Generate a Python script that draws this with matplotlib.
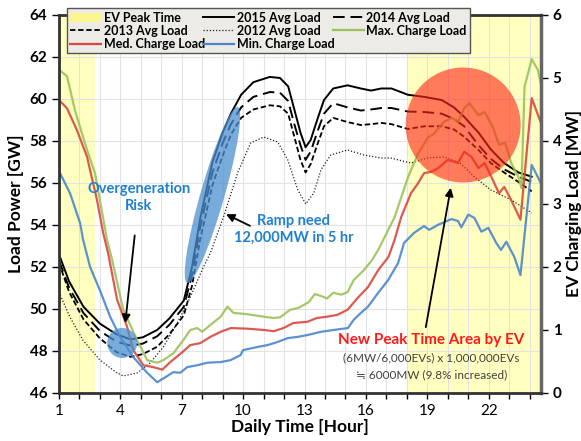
import matplotlib.pyplot as plt
from matplotlib.patches import Ellipse, Patch
from matplotlib.lines import Line2D
from matplotlib.transforms import ScaledTranslation

plt.rcParams['font.family'] = ['Lato', 'DejaVu Sans']

# average loads [GW], left axis
hours_avg = [1.0, 1.5, 2.2, 3.0, 3.8, 4.5, 5.1, 5.8, 6.4, 7.1, 7.5, 7.9, 8.5, 9.0, 9.4, 9.9,
             10.5, 11.3, 11.8, 12.2, 12.5, 12.8, 13.05, 13.3, 13.65, 13.95, 14.4, 15.1, 15.75,
             16.25, 16.75, 17.25, 18.05, 18.85, 19.7, 20.3, 20.8, 21.5, 22.1, 22.75, 23.45, 24.1]
load_2015 = [52.6, 51.3, 50.1, 49.3, 48.8, 48.55, 48.65, 49.0, 49.55, 50.4, 52.0, 54.3, 57.0, 58.4,
             59.3, 60.2, 60.8, 61.05, 61.0, 60.6, 59.5, 58.4, 57.7, 58.05, 59.1, 59.95, 60.5, 60.65,
             60.5, 60.4, 60.5, 60.5, 60.2, 60.1, 59.95, 59.6, 59.15, 58.4, 57.6, 56.95, 56.5, 56.3]
load_2014 = [52.3, 51.0, 49.8, 48.95, 48.45, 48.25, 48.35, 48.7, 49.25, 50.1, 51.6, 53.9, 56.5, 57.9,
             58.8, 59.6, 60.1, 60.33, 60.3, 59.9, 58.8, 57.8, 57.1, 57.5, 58.5, 59.3, 59.8, 59.6,
             59.45, 59.5, 59.57, 59.57, 59.4, 59.38, 59.3, 59.05, 58.7, 57.8, 57.15, 56.65, 56.3, 56.05]
load_2013 = [52.2, 50.8, 49.5, 48.6, 47.95, 47.72, 47.85, 48.2, 48.8, 49.7, 51.1, 53.3, 55.9, 57.3,
             58.3, 59.1, 59.5, 59.7, 59.65, 59.3, 58.2, 57.1, 56.5, 56.9, 57.9, 58.7, 59.1, 58.9,
             58.76, 58.8, 58.86, 58.8, 58.57, 58.7, 58.7, 58.55, 58.2, 57.57, 56.95, 56.5, 56.05, 55.6]

hours_2012 = [1.0, 1.54, 2.18, 3.0, 3.84, 4.14, 4.82, 5.46, 6.1, 6.78, 7.42, 8.06, 8.4, 9.04, 9.73,
              10.36, 11.0, 11.69, 12.18, 12.67, 13.06, 13.45, 13.8, 14.28, 15.1, 15.9, 16.74, 17.2,
              18.2, 19.0, 19.8, 20.6, 21.3, 22.1, 23.1, 24.1]
load_2012 = [50.8, 49.6, 48.5, 47.57, 46.95, 46.81, 46.95, 47.43, 48.19, 49.33, 50.57, 52.0, 52.67,
             54.38, 56.48, 57.9, 58.19, 57.95, 57.1, 55.67, 55.0, 55.52, 56.62, 57.33, 57.57, 57.33,
             57.19, 57.19, 56.95, 57.19, 57.24, 56.95, 56.29, 55.67, 55.19, 54.57]

# EV charging loads [MW], right axis
hours_max = [1.0, 1.39, 1.78, 2.03, 2.37, 2.76, 3.0, 3.35, 3.6, 4.14, 4.82, 5.31, 5.8, 6.1, 6.59,
             7.08, 7.42, 7.76, 8.0, 8.4, 8.9, 9.23, 9.53, 10.2, 11.0, 11.5, 11.8, 12.3, 12.7, 13.2,
             13.5, 13.8, 14.1, 14.4, 14.8, 15.1, 15.4, 15.9, 16.3, 16.6, 17.4, 18.06, 18.55, 19.04,
             19.3, 19.8, 20.2, 20.5, 20.8, 21.05, 21.5, 21.8, 22.2, 22.5, 22.8, 23.1, 23.45, 23.6,
             23.75, 24.1, 24.4, 24.55]
max_charge = [5.13, 5.03, 4.49, 4.22, 3.86, 3.49, 3.06, 2.43, 2.11, 1.32, 0.84, 0.52, 0.48, 0.52,
              0.63, 0.84, 1.0, 1.03, 0.97, 1.08, 1.21, 1.37, 1.27, 1.25, 1.21, 1.19, 1.2, 1.32, 1.35,
              1.44, 1.57, 1.54, 1.5, 1.59, 1.56, 1.6, 1.79, 1.95, 2.11, 2.27, 2.79, 3.43, 3.8, 4.06,
              4.11, 4.3, 4.37, 4.3, 4.52, 4.6, 4.41, 4.46, 4.22, 3.94, 3.97, 3.65, 3.43, 3.25,
              4.86, 5.3, 5.13, 4.9]

hours_med = [1.0, 1.39, 1.88, 2.37, 2.86, 3.16, 3.4, 3.84, 4.33, 4.63, 5.12, 5.6, 6.05, 6.44, 6.93,
             7.42, 7.9, 8.4, 8.9, 9.4, 10.2, 11.0, 11.5, 11.97, 12.45, 13.15, 13.6, 14.1, 14.6,
             15.1, 15.6, 16.1, 16.6, 17.1, 17.4, 17.72, 18.2, 18.55, 18.84, 19.2, 19.53, 20.0, 20.5,
             20.8, 21.15, 21.5, 21.8, 22.13, 22.5, 22.76, 23.1, 23.55, 24.1, 24.55]
med_charge = [4.65, 4.52, 4.17, 3.75, 3.06, 2.54, 2.22, 1.48, 1.05, 0.68, 0.44, 0.41, 0.37, 0.49,
              0.62, 0.76, 0.79, 0.89, 0.97, 1.03, 1.02, 1.0, 0.98, 1.03, 1.11, 1.13, 1.19, 1.21,
              1.24, 1.32, 1.51, 1.68, 1.95, 2.16, 2.43, 2.79, 3.17, 3.33, 3.49, 3.51, 3.57, 3.7,
              3.65, 3.83, 3.75, 3.57, 3.65, 3.43, 3.17, 3.27, 3.06, 2.75, 4.68, 4.29]

hours_min = [1.05, 1.54, 2.03, 2.18, 2.52, 3.0, 3.5, 3.99, 4.63, 5.31, 5.8, 6.2, 6.59, 6.93, 7.27,
             7.76, 8.25, 8.9, 9.38, 9.87, 10.0, 10.7, 11.2, 11.69, 12.18, 12.67, 13.16, 13.8, 14.43,
             15.12, 15.4, 15.75, 16.1, 16.6, 17.08, 17.57, 17.86, 18.35, 18.84, 19.09, 19.53, 19.82,
             20.17, 20.5, 20.66, 21.0, 21.3, 21.64, 21.98, 22.37, 22.6, 22.86, 23.25, 23.55, 24.1,
             24.55]
min_charge = [3.49, 3.17, 2.7, 2.43, 2.0, 1.63, 1.21, 0.89, 0.57, 0.32, 0.17, 0.25, 0.33, 0.32,
              0.41, 0.44, 0.48, 0.49, 0.52, 0.6, 0.68, 0.73, 0.76, 0.81, 0.87, 0.89, 0.92, 0.97,
              1.0, 1.03, 1.16, 1.27, 1.37, 1.59, 1.79, 2.06, 2.38, 2.54, 2.65, 2.59, 2.67, 2.71,
              2.76, 2.73, 2.63, 2.83, 2.78, 2.56, 2.62, 2.38, 2.27, 2.4, 2.16, 1.87, 3.62, 3.33]

peak_spans = [(1.0, 2.75), (18.0, 24.55)]
x_ticks = [1, 4, 7, 10, 13, 16, 19, 22]

fig, ax = plt.subplots(figsize=(5.81, 4.41), dpi=100)
fig.subplots_adjust(left=0.1015, right=0.931, bottom=0.109, top=0.966)
ax2 = ax.twinx()

for a, b in peak_spans:
    ax.axvspan(a, b, color='#FFFFC0', lw=0, zorder=0.2)

ax.set_axisbelow(True)
ax.grid(True, which='both', color='#E3E3E3', lw=0.8)

ax.plot(hours_avg, load_2015, color='black', lw=1.4)
ax.plot(hours_avg, load_2014, color='black', lw=1.4, dashes=(6, 3))
ax.plot(hours_avg, load_2013, color='black', lw=1.3, dashes=(3, 1.5))
ax.plot(hours_2012, load_2012, color='#222222', lw=0.9, dashes=(1, 1.5))

ax2.plot(hours_max, max_charge, color='#9BC25A', lw=1.6, alpha=0.9)
ax2.plot(hours_med, med_charge, color='#D9483F', lw=1.6, alpha=0.9)
ax2.plot(hours_min, min_charge, color='#4A86CC', lw=1.6, alpha=0.9)

ax.set_xlim(1, 24.55)
ax.set_ylim(46, 64)
ax2.set_ylim(0, 6)
ax.set_xticks(x_ticks)
ax.set_xticks(range(1, 25), minor=True)
ax.set_yticks(range(46, 65, 2))
ax2.set_yticks(range(0, 7))

ax.tick_params(axis='x', labelsize=11, length=4, width=1, pad=4)
ax.tick_params(axis='x', which='minor', length=4, width=1)
ax.tick_params(axis='y', labelsize=11, length=5, width=1)
ax2.tick_params(axis='y', labelsize=11, length=5, width=1)
for lab in ax.get_yticklabels() + ax2.get_yticklabels():
    lab.set_fontweight('bold')

ax.set_xlabel('Daily Time [Hour]', fontsize=12.5, fontweight='bold', labelpad=1)
ax.set_ylabel('Load Power [GW]', fontsize=12.5, fontweight='bold', labelpad=4)
ax2.set_ylabel('EV Charging Load [MW]', fontsize=12.5, fontweight='bold', labelpad=3)

for sp in ['left', 'bottom', 'top']:
    ax2.spines[sp].set_linewidth(2)
    ax2.spines[sp].set_color('#333333')
ax2.spines['right'].set_linewidth(2.5)
ax2.spines['right'].set_color('#666666')


def blob(x, y, w, h, ang, color, alpha):
    # size in inches, centred on a data point of the left axis
    tr = fig.dpi_scale_trans + ScaledTranslation(x, y, ax.transData)
    e = Ellipse((0, 0), w, h, angle=ang, transform=tr, facecolor=color,
                edgecolor='none', alpha=alpha, zorder=6)
    ax2.add_artist(e)


blob(8.5, 55.43, 1.83, 0.24, 74, '#4C8FD0', 0.75)
blob(4.09, 48.38, 0.30, 0.30, 0, '#4C8FD0', 0.75)
blob(20.75, 58.76, 1.15, 1.15, 0, '#FF2A1A', 0.62)

arrow = dict(arrowstyle='-|>', color='black', lw=1.3, mutation_scale=12)
ax2.annotate('Overgeneration\nRisk', xy=(4.24, 49.33), xycoords=ax.transData,
             xytext=(4.9, 55.3), textcoords=ax.transData, ha='center', va='center',
             color='#1F80D0', fontsize=10.5, fontweight='bold', linespacing=1.3,
             arrowprops=dict(arrow, shrinkA=14, shrinkB=0), zorder=8)
ax2.annotate('', xy=(9.04, 54.57), xycoords=ax.transData,
             xytext=(10.46, 53.9), textcoords=ax.transData,
             arrowprops=arrow, zorder=8)
ax2.text(12.47, 53.8, 'Ramp need\n12,000MW in 5 hr', transform=ax.transData,
         ha='center', va='center', color='#1F80D0', fontsize=10.5, fontweight='bold',
         linespacing=1.3, zorder=8)
ax2.annotate('', xy=(20.17, 55.9), xycoords=ax.transData,
             xytext=(18.9, 49.0), textcoords=ax.transData,
             arrowprops=arrow, zorder=8)
ax2.text(19.2, 48.5, 'New Peak Time Area by EV', transform=ax.transData,
         ha='center', va='center', color='#FF1A1A', fontsize=11, fontweight='bold', zorder=8)
ax2.text(19.2, 47.65, '(6MW/6,000EVs) x 1,000,000EVs', transform=ax.transData,
         ha='center', va='center', color='#404040', fontsize=8.5, zorder=8)
ax2.text(19.2, 46.88, '\u2252 6000MW (9.8% increased)', transform=ax.transData,
         ha='center', va='center', color='#404040', fontsize=8.5, zorder=8)

# legend order is column-wise in matplotlib
handles = [
    Patch(facecolor='#FCF48C', edgecolor='none', label='EV Peak Time'),
    Line2D([], [], color='black', lw=1.3, dashes=(3, 1.5), label='2013 Avg Load'),
    Line2D([], [], color='#D9483F', lw=1.6, label='Med. Charge Load'),
    Line2D([], [], color='black', lw=1.4, label='2015 Avg Load'),
    Line2D([], [], color='#222222', lw=0.9, dashes=(1, 1.5), label='2012 Avg Load'),
    Line2D([], [], color='#4A86CC', lw=1.6, label='Min. Charge Load'),
    Line2D([], [], color='black', lw=1.4, dashes=(6, 3), label='2014 Avg Load'),
    Line2D([], [], color='#9BC25A', lw=1.6, label='Max. Charge Load'),
]
leg = ax2.legend(handles=handles, ncol=3, loc='lower left',
                 bbox_to_anchor=(0.0166, 0.899, 0.836, 0.088), mode='expand',
                 prop={'weight': 'bold', 'size': 9}, handlelength=2.5,
                 handletextpad=0.2, labelspacing=0.1, borderpad=0.25, columnspacing=1.0,
                 fancybox=False, framealpha=1, borderaxespad=0)
leg.get_frame().set_facecolor('#ECEBE6')
leg.get_frame().set_edgecolor('#555555')
leg.get_frame().set_linewidth(1)
leg.set_zorder(10)

plt.savefig('out.png', dpi=100)
